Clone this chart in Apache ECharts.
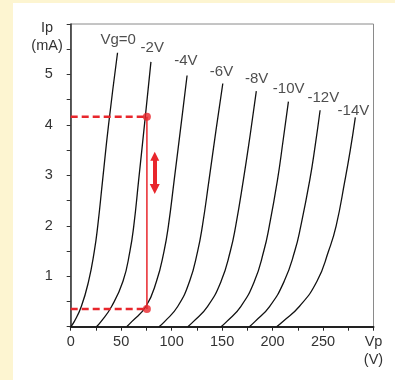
<!DOCTYPE html>
<html><head><meta charset="utf-8">
<script src="https://cdn.jsdelivr.net/npm/echarts@6/dist/echarts.min.js"></script>
<style>
html,body{margin:0;padding:0;background:#fdf5d1;width:395px;height:380px;overflow:hidden;}
#panel{position:absolute;left:13px;top:3px;right:0;bottom:0;background:#fff;}
#chart{position:absolute;left:0;top:0;width:395px;height:380px;}
</style></head><body>
<div id="panel"></div><div id="chart"></div>
<script>
// Curve names (grid voltage)
const curveNames = ['Vg=0', '-2V', '-4V', '-6V', '-8V', '-10V', '-12V', '-14V'];
// Each curve: [Vp (V), Ip (mA)]
const vg0  = [[0,0],[3.5,0.1],[10.5,0.4],[17.7,0.9],[23.4,1.5],[26.8,2.0],[31.6,2.9],[37.5,4.0],[46.4,5.43]];
const vg2  = [[25.5,0],[30,0.1],[40.5,0.4],[51.8,0.9],[58.7,1.5],[62.5,2.0],[67.3,2.9],[73.9,4.16],[79.5,5.25]];
const vg4  = [[55.5,0],[60.5,0.1],[74.5,0.4],[85,0.9],[92.5,1.5],[96.8,2.0],[102.5,2.9],[110.3,4.16],[115.3,4.98]];
const vg6  = [[87.5,0],[93,0.1],[106,0.4],[117.8,0.9],[125.8,1.5],[130.5,2.0],[137,2.9],[144,3.9],[150.7,4.82]];
const vg8  = [[116,0],[121.5,0.1],[135.5,0.4],[149,0.9],[158.2,1.5],[163.5,2.0],[171,2.9],[177.8,3.8],[183.9,4.67]];
const vg10 = [[149,0],[154.5,0.1],[168.5,0.4],[182,0.9],[191.3,1.5],[196.8,2.0],[204.8,2.9],[210.5,3.7],[215.7,4.46]];
const vg12 = [[177,0],[182.5,0.1],[197,0.4],[211.5,0.9],[222,1.5],[228,2.0],[236.8,2.9],[242.3,3.6],[247.1,4.29]];
const vg14 = [[204,0],[210,0.1],[226.5,0.4],[244,0.9],[255.5,1.5],[263,2.0],[271.7,2.9],[277,3.5],[282,4.15]];
const curves = [vg0, vg2, vg4, vg6, vg8, vg10, vg12, vg14];
// Curve label anchor points (data units)
const labelVp = [47.0, 80.8, 114.1, 149.4, 184.2, 216.0, 250.3, 280.1];
const labelIp = [5.68, 5.52, 5.26, 5.06, 4.92, 4.71, 4.53, 4.27];
// Tick labels
const xTickLabels = {0:'0', 50:'50', 100:'100', 150:'150', 200:'200', 250:'250', 300:'Vp\n(V)'};
const yTickLabels = {1:'1', 2:'2', 3:'3', 4:'4', 5:'5'};
const yAxisTitle = 'Ip\n(mA)';
// Operating-point annotation
const opVp = 75.5;
const ipHigh = 4.16;
const ipLow = 0.35;
const arrowVp = 83.3;
const arrowIp = [2.73, 3.38];

const RED = '#e8262c';
const FONT = '"Liberation Sans", Arial, sans-serif';

const series = curves.map((c, i) => ({
  type: 'line', name: curveNames[i], data: c, showSymbol: false, silent: true,
  smooth: 0.5,
  lineStyle: {color: '#111', width: 1.3}, z: 2
}));
series.push({
  type: 'scatter', symbolSize: 0, silent: true,
  data: labelVp.map((v, i) => [v, labelIp[i], curveNames[i]]),
  label: {show: true, position: 'inside', formatter: p => p.data[2],
    fontSize: 15, color: '#222', fontFamily: FONT}
});
series.push({
  type: 'line', data: [[0, ipHigh], [opVp, ipHigh]], showSymbol: false, silent: true,
  lineStyle: {color: RED, width: 2.5, type: [7, 4]}, z: 3
});
series.push({
  type: 'line', data: [[0, ipLow], [opVp, ipLow]], showSymbol: false, silent: true,
  lineStyle: {color: RED, width: 2.5, type: [7, 4]}, z: 3
});
series.push({
  type: 'line', data: [[opVp, ipLow], [opVp, ipHigh]], showSymbol: false, silent: true,
  lineStyle: {color: RED, width: 1.5}, z: 3
});
series.push({
  type: 'scatter', data: [[opVp, ipHigh], [opVp, ipLow]], symbolSize: 8, silent: true,
  itemStyle: {color: RED}, z: 4
});
series.push({
  type: 'lines', coordinateSystem: 'cartesian2d', silent: true,
  symbol: ['triangle', 'triangle'], symbolSize: [10, 9],
  lineStyle: {color: RED, width: 4, opacity: 1},
  data: [{coords: [[arrowVp, arrowIp[0]], [arrowVp, arrowIp[1]]]}], z: 4
});

const chart = echarts.init(document.getElementById('chart'), null, {renderer: 'canvas'});
chart.setOption({
  animation: false,
  backgroundColor: 'transparent',
  textStyle: {fontFamily: FONT},
  grid: {left: 70.7, right: 21.5, top: 24, bottom: 53.3, show: true, borderColor: '#8a8a8a', borderWidth: 1},
  xAxis: {
    type: 'value', min: 0, max: 300, interval: 25,
    axisLine: {lineStyle: {color: '#222', width: 2}},
    axisTick: {show: true, length: 4, lineStyle: {color: '#222', width: 1}},
    splitLine: {show: false},
    axisLabel: {formatter: v => xTickLabels[v] || '', fontSize: 14.5, color: '#333',
      margin: 6, lineHeight: 18, fontFamily: FONT}
  },
  yAxis: {
    type: 'value', min: 0, max: 6, interval: 0.5,
    axisLine: {lineStyle: {color: '#333', width: 1.5}},
    axisTick: {show: true, length: 4, lineStyle: {color: '#333', width: 1}},
    splitLine: {show: false},
    axisLabel: {formatter: v => yTickLabels[v] || '', fontSize: 14.5, color: '#333',
      margin: 18, fontFamily: FONT}
  },
  graphic: [{
    type: 'text', x: 47, y: 37, silent: true,
    style: {text: yAxisTitle, align: 'center', verticalAlign: 'middle',
      fontSize: 14.5, lineHeight: 18, fill: '#333', fontFamily: FONT}
  }],
  series: series
});
</script>
</body></html>
